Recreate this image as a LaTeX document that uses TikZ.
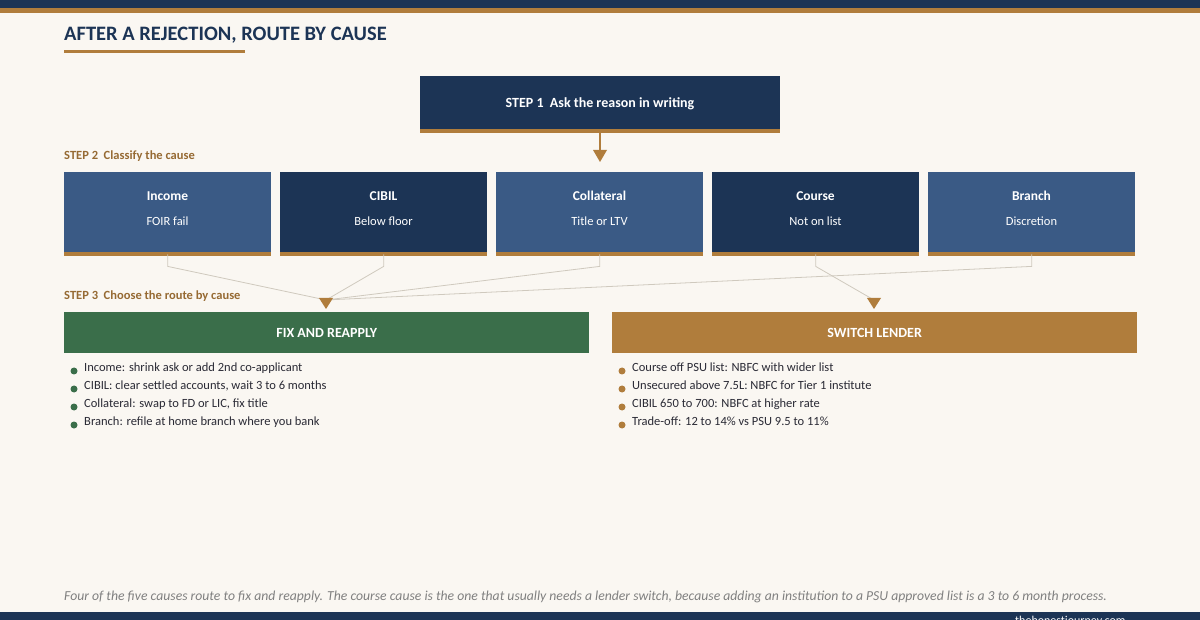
\documentclass[tikz,border=0pt]{standalone}
\usepackage{fontspec}
\setmainfont{Carlito}
\usetikzlibrary{positioning}
\definecolor{navy}{HTML}{1C3455}
\definecolor{midblue}{HTML}{3A5A85}
\definecolor{bronze}{HTML}{B07D3C}
\definecolor{leaf}{HTML}{3A6E4A}
\definecolor{paper}{HTML}{FAF7F2}
\definecolor{ink}{HTML}{2A2A35}
\definecolor{wire}{HTML}{CFC9BE}
\tikzset{
  causebox/.style={rectangle, minimum width=207pt, minimum height=80pt, inner sep=0pt, anchor=north west},
  stripe/.style={fill=bronze, draw=none},
  steplabel/.style={anchor=base west, text=bronze!85!black, font=\fontsize{12.5}{15}\selectfont\bfseries, inner sep=0pt},
  bullet/.style={anchor=base west, text=ink, font=\fontsize{12.5}{15}\selectfont, inner sep=0pt},
  link/.style={draw=wire, line width=0.8pt},
  tip/.style={fill=bronze, draw=none}
}
\begin{document}
\begin{tikzpicture}[x=1pt, y=-1pt]
  \fill[paper] (0,0) rectangle (1200,620);
  \useasboundingbox (0,0) rectangle (1200,620);
  % bars
  \fill[navy] (0,0) rectangle (1200,8);
  \fill[bronze] (0,8) rectangle (1200,13);
  \fill[navy] (0,612) rectangle (1200,620);
  \begin{scope}
    \clip (0,612) rectangle (1200,620);
    \node[anchor=base west, text=white, font=\fontsize{12}{14}\selectfont, inner sep=0pt] (site) at (1015,624) {thehonestjourney.com};
  \end{scope}
  % title
  \node[anchor=base west, text=navy, font=\fontsize{20.5}{25}\selectfont\bfseries, inner sep=0pt] (title) at (64,41) {AFTER A REJECTION, ROUTE BY CAUSE};
  \fill[bronze] (64,50) rectangle (245,53);
  % step 1
  \node[rectangle, fill=navy, minimum width=360pt, minimum height=55pt, inner sep=0pt, text=white, font=\fontsize{14}{17}\selectfont\bfseries] (ask) at (600,104) {STEP 1\ \ Ask the reason in writing};
  \fill[stripe] (420,129) rectangle (780,133);
  \coordinate (askfoot) at (600,133);
  \coordinate (tipA) at (600,150);
  \draw[draw=bronze, line width=1.2pt] (askfoot) -- (tipA);
  \fill[tip] (593,150) -- (607,150) -- (600,162) -- cycle;
  % step 2
  \node[steplabel] (s2) at (64,160) {STEP 2\ \ Classify the cause};
  \foreach \x/\c/\name/\head/\sub in {64/midblue/income/Income/FOIR fail, 280/navy/cibil/CIBIL/Below floor, 496/midblue/coll/Collateral/Title or LTV, 712/navy/course/Course/Not on list, 928/midblue/branch/Branch/Discretion}{
    \node[causebox, fill=\c] (\name) at (\x,172) {};
    \fill[stripe] (\x,252) rectangle (\x+207,256);
    \node[text=white, font=\fontsize{13.5}{16}\selectfont\bfseries] at (\x+103.5,196) {\head};
    \node[text=white, font=\fontsize{12.5}{15}\selectfont] at (\x+103.5,221) {\sub};
  }
  % routes
  \coordinate (fixin) at (326,300);
  \coordinate (swin) at (874,300);
  \foreach \name in {income, cibil, coll, branch}
    \draw[link] ([yshift=-2pt]\name.south) -- ++(0,12) -- (fixin);
  \draw[link] ([yshift=-2pt]course.south) -- ++(0,12) -- (swin);
  \fill[tip] (319,298) -- (333,298) -- (326,309) -- cycle;
  \fill[tip] (867,298) -- (881,298) -- (874,309) -- cycle;
  % step 3
  \node[steplabel] (s3) at (64,300) {STEP 3\ \ Choose the route by cause};
  \node[rectangle, fill=leaf, minimum width=525pt, minimum height=41pt, inner sep=0pt, anchor=north west, text=white, font=\fontsize{14}{17}\selectfont\bfseries] (fix) at (64,312) {FIX AND REAPPLY};
  \node[rectangle, fill=bronze, minimum width=525pt, minimum height=41pt, inner sep=0pt, anchor=north west, text=white, font=\fontsize{14}{17}\selectfont\bfseries] (switch) at (612,312) {SWITCH LENDER};
  \foreach \y/\t in {371/{Income: shrink ask or add 2nd co-applicant}, 389/{CIBIL: clear settled accounts, wait 3 to 6 months}, 407/{Collateral: swap to FD or LIC, fix title}, 425/{Branch: refile at home branch where you bank}}{
    \fill[leaf] (74,\y) circle (3.5pt);
    \node[bullet] at (84,\y) {\t};
  }
  \foreach \y/\t in {371/{Course off PSU list: NBFC with wider list}, 389/{Unsecured above 7.5L: NBFC for Tier 1 institute}, 407/{CIBIL 650 to 700: NBFC at higher rate}, 425/{Trade-off: 12 to 14\% vs PSU 9.5 to 11\%}}{
    \fill[bronze] (622,\y) circle (3.5pt);
    \node[bullet] at (632,\y) {\t};
  }
  % note
  \node[anchor=base west, text=gray, font=\fontsize{13.7}{16}\selectfont\itshape, inner sep=0pt] (note) at (64,600) {Four of the five causes route to fix and reapply. The course cause is the one that usually needs a lender switch, because adding an institution to a PSU approved list is a 3 to 6 month process.};
\end{tikzpicture}
\end{document}
